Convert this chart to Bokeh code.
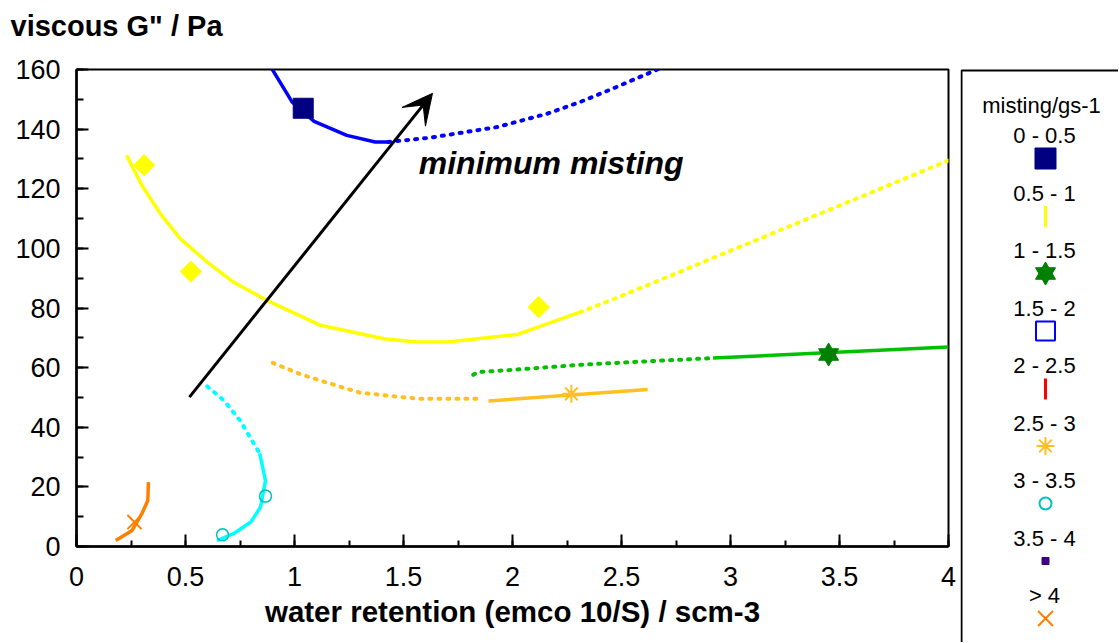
import numpy as np
from bokeh.plotting import figure
from bokeh.models import Range1d, SingleIntervalTicker, Label, Arrow, VeeHead
from bokeh.layouts import row, column
from bokeh.embed import file_html
from bokeh.resources import INLINE

FONT = "Liberation Sans"

# ---------------- data ----------------
blue_solid_x = [0.89, 0.99, 1.09, 1.24, 1.37, 1.43]
blue_solid_y = [161.0, 149.0, 142.6, 137.9, 135.7, 135.7]
blue_dot_x = [1.43, 1.62, 1.93, 2.16, 2.31, 2.46, 2.68]
blue_dot_y = [135.7, 137.1, 140.7, 145.2, 149.1, 153.6, 160.5]
navy_sq_x = [1.04]
navy_sq_y = [147.0]

yellow_solid_x = [0.23, 0.30, 0.385, 0.477, 0.59, 0.72, 0.875, 1.12, 1.41, 1.56, 1.70, 2.02, 2.31]
yellow_solid_y = [131.2, 121.1, 111.6, 103.2, 96.0, 88.7, 82.5, 74.2, 69.7, 68.6, 68.6, 71.1, 78.6]
yellow_dot_x = [2.31, 2.45, 2.69, 2.93, 4.0]
yellow_dot_y = [78.6, 82.6, 89.8, 97.1, 129.5]
yellow_dia_x = [0.31, 0.525, 2.12]
yellow_dia_y = [127.9, 92.2, 80.3]

green_dot_x = [1.82, 1.84, 1.97, 2.32, 2.61, 2.92]
green_dot_y = [57.6, 58.5, 59.1, 61.0, 62.1, 63.2]
green_solid_x = [2.92, 4.0]
green_solid_y = [63.2, 66.9]
green_star_x = [3.45]
green_star_y = [64.4]

orange_dot_x = [0.90, 1.03, 1.20, 1.30, 1.56, 1.85]
orange_dot_y = [61.6, 57.7, 53.8, 51.6, 49.6, 49.6]
orange_solid_x = [1.89, 2.62]
orange_solid_y = [48.8, 52.7]
aster_x = [2.27]
aster_y = [51.2]

cyan_dot_x = [0.60, 0.676, 0.75, 0.80, 0.84]
cyan_dot_y = [53.7, 49.0, 42.3, 36.1, 31.3]
cyan_solid_x = [0.84, 0.867, 0.844, 0.80, 0.72, 0.645]
cyan_solid_y = [31.3, 22.1, 13.2, 8.2, 4.3, 2.0]
cyan_circ_x = [0.867, 0.67]
cyan_circ_y = [16.9, 3.9]

dkorange_x = [0.18, 0.255, 0.30, 0.327, 0.33]
dkorange_y = [2.0, 5.4, 11.0, 15.4, 21.6]
xmark_x = [0.266]
xmark_y = [8.2]

arrow_start = (0.518, 50.1)
arrow_end = (1.633, 152.0)

y_title = 'viscous G" / Pa'
x_title = "water retention (emco 10/S) / scm-3"
note_text = "minimum misting"
leg_title = "misting/gs-1"
leg_labels = ["0 - 0.5", "0.5 - 1", "1 - 1.5", "1.5 - 2", "2 - 2.5",
              "2.5 - 3", "3 - 3.5", "3.5 - 4", "> 4"]

TOTAL_H = 642
TOP_H = 45          # height of the title strip
P_W = 76 + 872 + 12

# ---------------- title strip ----------------
t = figure(frame_width=P_W, frame_height=TOP_H, x_range=Range1d(0, P_W),
           y_range=Range1d(TOP_H, 0), output_backend="svg", toolbar_location=None,
           min_border=0, x_axis_location=None, y_axis_location=None)
t.frame_align = False
t.grid.visible = False
t.outline_line_color = None
t.add_layout(Label(x=10, y=25, text=y_title, text_font=FONT, text_font_style="bold",
                   text_font_size="29px", text_baseline="alphabetic",
                   text_align="left", text_color="black"))

# ---------------- main plot ----------------
p = figure(frame_width=872, frame_height=477,
           x_range=Range1d(0, 4), y_range=Range1d(0, 160),
           output_backend="svg", toolbar_location=None,
           min_border_left=76, min_border_top=69 - TOP_H,
           min_border_right=12, min_border_bottom=TOTAL_H - 69 - 477)
p.frame_align = False
p.grid.visible = False
p.outline_line_color = "black"
p.outline_line_width = 2
p.background_fill_color = "white"
p.border_fill_color = "white"

p.xaxis.ticker = SingleIntervalTicker(interval=0.5, num_minor_ticks=2)
p.yaxis.ticker = SingleIntervalTicker(interval=20, num_minor_ticks=2)
for ax in (p.xaxis, p.yaxis):
    ax.axis_line_width = 2.5
    ax.major_tick_line_width = 2
    ax.minor_tick_line_width = 2
    ax.major_tick_in = 12
    ax.major_tick_out = 0
    ax.minor_tick_out = 0
    ax.major_label_text_font = FONT
    ax.major_label_text_font_size = "27px"
    ax.major_label_text_color = "black"
p.xaxis.minor_tick_in = 6
p.yaxis.minor_tick_in = 7
p.xaxis.major_label_standoff = 20
p.yaxis.major_label_standoff = 16
p.xaxis.axis_label = x_title
p.xaxis.axis_label_text_font = FONT
p.xaxis.axis_label_text_font_style = "bold"
p.xaxis.axis_label_text_font_size = "29.5px"
p.xaxis.axis_label_text_color = "black"
p.xaxis.axis_label_standoff = 6

SOLID = 3.5
dot = dict(line_dash="2 7", line_cap="round", line_width=4)

p.line(blue_solid_x, blue_solid_y, color="#0000FF", line_width=SOLID)
p.line(blue_dot_x, blue_dot_y, color="#0000FF", **dot)
p.scatter(navy_sq_x, navy_sq_y, marker="square", size=20, color="#000080")

p.line(yellow_solid_x, yellow_solid_y, color="#FFFF00", line_width=SOLID)
p.line(yellow_dot_x, yellow_dot_y, color="#FFFF00", **dot)
p.scatter(yellow_dia_x, yellow_dia_y, marker="square", angle=np.pi / 4,
          size=15, color="#FFFF00")

p.line(green_dot_x, green_dot_y, color="#00C000", **dot)
p.line(green_solid_x, green_solid_y, color="#00C000", line_width=SOLID)
p.scatter(green_star_x, green_star_y, marker="triangle", size=20, color="#008000")
p.scatter(green_star_x, green_star_y, marker="inverted_triangle", size=20, color="#008000")

p.line(orange_dot_x, orange_dot_y, color="#FFC020", **dot)
p.line(orange_solid_x, orange_solid_y, color="#FFC020", line_width=SOLID)
p.scatter(aster_x, aster_y, marker="asterisk", size=18, line_color="#FFC020", line_width=2)

p.line(cyan_dot_x, cyan_dot_y, color="#00FFFF", **dot)
p.line(cyan_solid_x, cyan_solid_y, color="#00FFFF", line_width=SOLID)
p.scatter(cyan_circ_x, cyan_circ_y, marker="circle", size=12, fill_color=None,
          line_color="#00C0C0", line_width=1.5)

p.line(dkorange_x, dkorange_y, color="#FF8000", line_width=SOLID)
p.scatter(xmark_x, xmark_y, marker="x", size=20, line_color="#FF8000", line_width=2)

p.add_layout(Arrow(end=VeeHead(size=30, fill_color="black", line_color="black"),
                   x_start=arrow_start[0], y_start=arrow_start[1],
                   x_end=arrow_end[0], y_end=arrow_end[1],
                   line_color="black", line_width=3))

p.add_layout(Label(x=1.57, y=128.8, text=note_text, text_font=FONT,
                   text_font_style="bold italic", text_font_size="32px",
                   text_baseline="alphabetic", text_align="left", text_color="black"))

# ---------------- legend panel ----------------
LW, LH = 1118 - P_W, TOTAL_H
q = figure(frame_width=LW, frame_height=LH, x_range=Range1d(0, LW), y_range=Range1d(LH, 0),
           output_backend="svg", toolbar_location=None, min_border=0,
           x_axis_location=None, y_axis_location=None)
q.frame_align = False
q.grid.visible = False
q.outline_line_color = None
box_left = 961 - P_W
q.quad(left=box_left, right=LW + 50, top=70, bottom=LH + 50, fill_color=None,
       line_color="black", line_width=2)

cx = 1045 - P_W
q.add_layout(Label(x=cx - 4, y=105, text=leg_title, text_font=FONT, text_font_size="22px",
                   text_align="center", text_baseline="middle", text_color="black"))
lab_y = [135 + 57.5 * i for i in range(len(leg_labels))]
mk_y = [y + 23 for y in lab_y]
for lab, y in zip(leg_labels, lab_y):
    q.add_layout(Label(x=cx - 1, y=y, text=lab, text_font=FONT, text_font_size="22px",
                       text_align="center", text_baseline="middle", text_color="black"))

q.scatter([cx], [mk_y[0]], marker="square", size=21, color="#000080")
q.segment([cx], [mk_y[1] - 10], [cx], [mk_y[1] + 11], line_color="#FFFF00", line_width=3)
q.scatter([cx], [mk_y[2]], marker="triangle", size=20, color="#008000")
q.scatter([cx], [mk_y[2]], marker="inverted_triangle", size=20, color="#008000")
q.scatter([cx], [mk_y[3]], marker="square", size=19, fill_color=None,
          line_color="#0000FF", line_width=2)
q.segment([cx], [mk_y[4] - 10], [cx], [mk_y[4] + 11], line_color="#FF0000", line_width=3)
q.scatter([cx], [mk_y[5]], marker="asterisk", size=18, line_color="#FFC020", line_width=2)
q.scatter([cx], [mk_y[6]], marker="circle", size=12, fill_color=None,
          line_color="#00C0C0", line_width=2)
q.scatter([cx], [mk_y[7]], marker="square", size=7, color="#400080")
q.scatter([cx], [mk_y[8]], marker="x", size=21, line_color="#FF8000", line_width=2)

layout = row(column(t, p), q)
open("out.html", "w").write(file_html(layout, INLINE))
